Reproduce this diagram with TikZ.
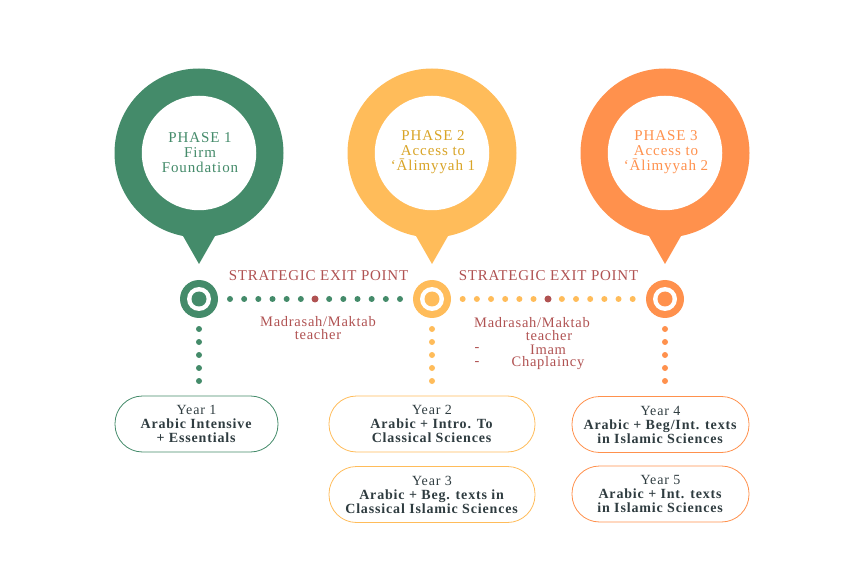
\documentclass[tikz,border=0pt]{standalone}
\usepackage{fontspec}
\setmainfont{Liberation Serif}
\newfontfamily\pinfont{Liberation Serif}[LetterSpace=6]
\newfontfamily\exitfont{Liberation Serif}[LetterSpace=5]
\newfontfamily\boxfont{Liberation Serif}[LetterSpace=6]
\definecolor{pgreen}{HTML}{448B6A}
\definecolor{pyellow}{HTML}{FFBC5A}
\definecolor{porange}{HTML}{FF914D}
\definecolor{pgold}{HTML}{D9A426}
\definecolor{exitred}{HTML}{B05252}
\definecolor{boxtext}{HTML}{2F3C40}
\tikzset{
  pinhead/.style={circle, fill=#1, minimum size=169pt, inner sep=0pt},
  pinhole/.style={circle, fill=white, minimum size=114.5pt, inner sep=0pt},
  pintext/.style={text=#1, align=center, font=\pinfont\fontsize{15}{15}\selectfont},
  target/.style={circle, fill=#1, minimum size=38pt, inner sep=0pt},
  dotrow/.style={draw=#1, line width=6pt, line cap=round, dash pattern=on 0pt off 14.1667pt},
  dotcol/.style={draw=#1, line width=6pt, line cap=round, dash pattern=on 0pt off 13pt},
  exitdot/.style={circle, fill=exitred, minimum size=7pt, inner sep=0pt},
  exitlabel/.style={text=exitred, font=\exitfont\fontsize{15}{15}\selectfont, inner sep=0pt},
  exittext/.style={text=exitred, font=\exitfont\fontsize{14.5}{13.5}\selectfont, inner sep=0pt, align=center},
  yearbox/.style={draw=#1, line width=0.8pt, rounded corners=27.5pt, minimum height=56pt,
    text=boxtext, align=center, inner sep=0pt, font=\boxfont\fontsize{14}{14}\selectfont},
}
\begin{document}
\begin{tikzpicture}[x=1pt,y=-1pt]
\useasboundingbox (0,0) rectangle (860,580);
% pins
\foreach \x/\c/\n in {199/pgreen/1, 432/pyellow/2, 665/porange/3} {
  \fill[\c] (\x-24,222) -- (\x,264) -- (\x+24,222) -- cycle;
  \node[pinhead=\c] (pin\n) at (\x,153) {};
  \node[pinhole] (hole\n) at (\x,153) {};
  \node[target=\c] (t\n) at (\x,299) {};
  \fill[white] (t\n.center) circle[radius=12pt];
  \fill[\c] (t\n.center) circle[radius=7.5pt];
  \coordinate (v\n s) at (\x,329);
  \coordinate (v\n e) at (\x,382);
  \draw[dotcol=\c] (v\n s) -- (v\n e);
}
\node[pintext=pgreen] (p1) at (200,152.5) {PHASE 1\\Firm\\Foundation};
\node[pintext=pgold] (p2) at (433,152.5) {PHASE 2\\Access to\\‘Ālimyyah 1};
\node[pintext=porange] (p3) at (666,152.5) {PHASE 3\\Access to\\‘Ālimyyah 2};
% dotted rows
\coordinate (h1s) at (230,299);
\coordinate (h1e) at (401,299);
\coordinate (h2s) at (462.7,299);
\coordinate (h2e) at (633.7,299);
\draw[dotrow=pgreen] (h1s) -- (h1e);
\draw[dotrow=pyellow] (h2s) -- (h2e);
\node[exitdot] (x1) at (315,299) {};
\node[exitdot] (x2) at (548,299) {};
% exit labels
\node[exitlabel] (e1) at (318.5,275.5) {STRATEGIC EXIT POINT};
\node[exitlabel] (e2) at (548.5,275.5) {STRATEGIC EXIT POINT};
\node[exittext] (m1) at (318,328) {Madrasah/Maktab\\teacher};
\node[exittext] (m2a) at (532,322.5) {Madrasah/Maktab};
\node[exittext] (m2b) at (549,336) {teacher};
\node[exittext] (d1) at (477,349.5) {-};
\node[exittext] (m2c) at (548,349.5) {Imam};
\node[exittext] (d2) at (477,363.5) {-};
\node[exittext] (m2d) at (548,363.5) {Chaplaincy};
% year boxes
\node[yearbox=pgreen, minimum width=163pt] (y1) at (196.5,424) {Year 1\\\textbf{Arabic Intensive}\\\textbf{+ Essentials}};
\node[yearbox=pyellow, minimum width=206pt] (y2) at (432,424) {Year 2\\\textbf{Arabic + Intro. To}\\\textbf{Classical Sciences}};
\node[yearbox=pyellow, minimum width=206pt] (y3) at (432,494.5) {Year 3\\\textbf{Arabic + Beg. texts in}\\\textbf{Classical Islamic Sciences}};
\node[yearbox=porange, minimum width=177pt] (y4) at (660.5,424.5) {Year 4\\\textbf{Arabic + Beg/Int. texts}\\\textbf{in Islamic Sciences}};
\node[yearbox=porange, minimum width=177pt] (y5) at (660.5,494) {Year 5\\\textbf{Arabic + Int. texts}\\\textbf{in Islamic Sciences}};
\end{tikzpicture}
\end{document}
